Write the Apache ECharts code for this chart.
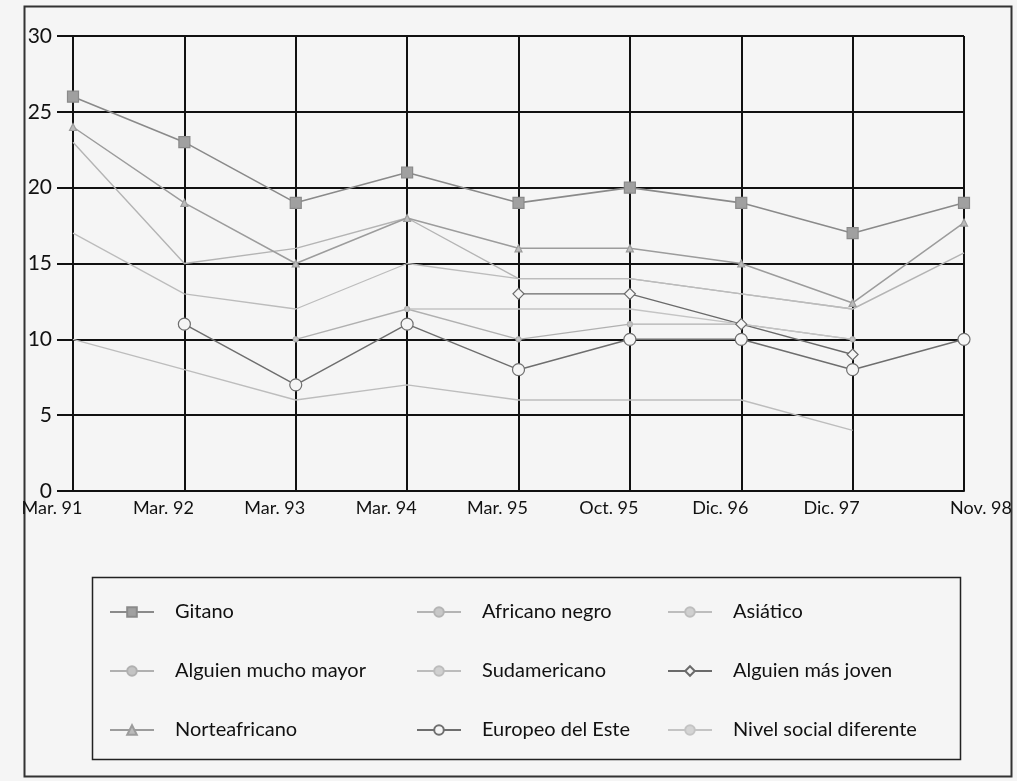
<!DOCTYPE html>
<html>
<head>
<meta charset="utf-8">
<script src="https://cdn.jsdelivr.net/npm/echarts@6/dist/echarts.min.js"></script>
<style>
html,body{margin:0;padding:0;background:#f5f5f5;}
#chart{width:1017px;height:781px;}
</style>
</head>
<body>
<div id="chart"></div>
<script>
const categories = ['Mar. 91','Mar. 92','Mar. 93','Mar. 94','Mar. 95','Oct. 95','Dic. 96','Dic. 97','Nov. 98'];
const yTicks = [0,5,10,15,20,25,30];

const gitano            = [26, 23, 19, 21, 19, 20, 19, 17, 19];
const norteafricano     = [24, 19, 15, 18, 16, 16, 15, 12.4, 17.7];
const africanoNegro     = [23, 15, 16, 18, 14, 14, 13, 12, 15.7];
const sudamericano      = [17, 13, 12, 15, 14, 14, 13, 12, null];
const asiatico          = [10, 8, 6, 7, 6, 6, 6, 4, null];
const europeoEste       = [null, 11, 7, 11, 8, 10, 10, 8, 10];
const alguienMayor      = [null, null, 10, 12, 10, 11, 11, 10, null];
const alguienJoven      = [null, null, null, null, 13, 13, 11, 9, null];
const nivelSocial       = [null, null, null, 12, 12, 12, 11, 10, null];

const seriesDefs = [
  {name:'Gitano', data:gitano, color:'#8a8a8a', symbol:'rect', size:11, fill:'#a0a0a0', width:1.6},
  {name:'Africano negro', data:africanoNegro, color:'#b4b4b4', symbol:'none', size:6, fill:'#c8c8c8', width:1.4},
  {name:'Asiático', data:asiatico, color:'#bdbdbd', symbol:'none', size:6, fill:'#d0d0d0', width:1.4},
  {name:'Alguien mucho mayor', data:alguienMayor, color:'#b0b0b0', symbol:'circle', size:5, fill:'#c4c4c4', width:1.3},
  {name:'Sudamericano', data:sudamericano, color:'#bcbcbc', symbol:'none', size:6, fill:'#d0d0d0', width:1.3},
  {name:'Alguien más joven', data:alguienJoven, color:'#6a6a6a', symbol:'diamond', size:11, fill:'#f5f5f5', width:1.4},
  {name:'Norteafricano', data:norteafricano, color:'#9c9c9c', symbol:'triangle', size:7, fill:'#bbbbbb', width:1.5},
  {name:'Europeo del Este', data:europeoEste, color:'#6e6e6e', symbol:'circle', size:12, fill:'#f5f5f5', width:1.5},
  {name:'Nivel social diferente', data:nivelSocial, color:'#c4c4c4', symbol:'none', size:6, fill:'#d4d4d4', width:1.3}
];

const series = seriesDefs.map(d => ({
  name: d.name,
  type: 'line',
  data: d.data,
  symbol: d.symbol,
  symbolSize: d.size,
  showSymbol: d.symbol !== 'none',
  connectNulls: false,
  lineStyle: {color: d.color, width: d.width},
  itemStyle: {color: d.fill, borderColor: d.color, borderWidth: 1.2},
  z: 3
}));

const font = 'Lato, "Noto Sans", sans-serif';
const legendCommon = {
  orient: 'vertical',
  itemWidth: 44,
  itemHeight: 12,
  itemGap: 39,
  textStyle: {fontFamily: font, fontSize: 20, color: '#111', padding: [0,0,0,16]},
  selectedMode: false
};

const lastCat = categories[categories.length - 1];

const chart = echarts.init(document.getElementById('chart'), null, {renderer:'canvas'});
chart.setOption({
  backgroundColor: '#f5f5f5',
  animation: false,
  grid: {left: 73, right: 53, top: 36, bottom: 290, containLabel: false},
  xAxis: {
    type: 'category',
    data: categories,
    boundaryGap: false,
    axisLine: {show: true, lineStyle: {color: '#111', width: 2}},
    axisTick: {show: false},
    splitLine: {show: true, lineStyle: {color: '#111', width: 2}},
    axisLabel: {
      fontFamily: font, fontSize: 18, color: '#111', margin: 8, interval: 0,
      formatter: v => v === lastCat ? '{r|' + v + '}' : '{l|' + v + '}',
      rich: {
        l: {fontFamily: font, fontSize: 18, color: '#111', padding: [0, 42, 0, 0]},
        r: {fontFamily: font, fontSize: 18, color: '#111', padding: [0, 0, 0, 34]}
      }
    }
  },
  yAxis: {
    type: 'value',
    min: 0, max: 30, interval: 5,
    axisLine: {show: true, lineStyle: {color: '#111', width: 2}},
    axisTick: {show: true, length: 16, lineStyle: {color: '#111', width: 2}},
    splitLine: {show: true, lineStyle: {color: '#111', width: 2}},
    axisLabel: {fontFamily: font, fontSize: 21, color: '#111', margin: 21,
      formatter: v => yTicks.includes(v) ? String(v) : ''}
  },
  legend: [
    Object.assign({}, legendCommon, {left: 104, top: 597, data: ['Gitano','Alguien mucho mayor','Norteafricano']}),
    Object.assign({}, legendCommon, {left: 411, top: 597, data: ['Africano negro','Sudamericano','Europeo del Este']}),
    Object.assign({}, legendCommon, {left: 662, top: 597, data: ['Asiático','Alguien más joven','Nivel social diferente']})
  ],
  graphic: [
    {type:'rect', left: 22, top: 4, shape:{width: 987, height: 770}, style:{fill:'none', stroke:'#333', lineWidth:2}, z: 0},
    {type:'rect', left: 90, top: 575, shape:{width: 868, height: 182}, style:{fill:'none', stroke:'#222', lineWidth:1.5}, z: 0}
  ],
  series: series
});
</script>
</body>
</html>
